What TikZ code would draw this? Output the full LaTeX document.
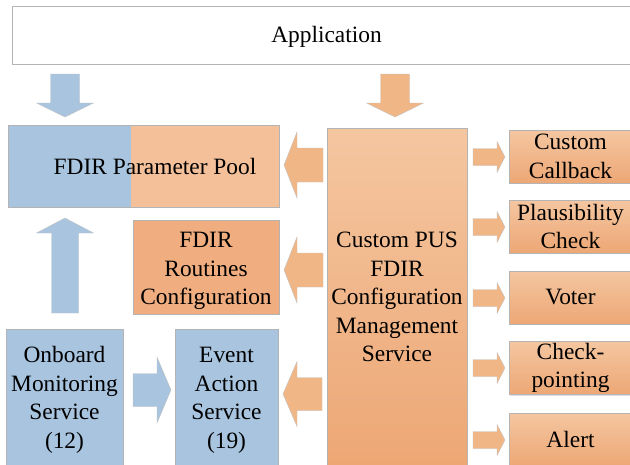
\documentclass[tikz,border=0pt]{standalone}
\usepackage{fontspec}
\setmainfont{Liberation Serif}
\newfontfamily\tnrfont{Liberation Serif}
\usetikzlibrary{calc,shadows}
\definecolor{bblue}{HTML}{A8C4DF}
\definecolor{oarrow}{HTML}{F1B686}
\definecolor{opool}{HTML}{F3C09A}
\definecolor{oroutine}{HTML}{F0AE80}
\definecolor{otop}{HTML}{F4C6A0}
\definecolor{obot}{HTML}{EDA775}
\definecolor{edgegray}{HTML}{B4B4B4}
% #1 style, #2 tip coordinate, #3 angle, #4 length, #5 shaft half width, #6 head half width, #7 head length
\newcommand\blockarrow[7]{\path[#1,shift={#2},rotate=#3] (0,0) -- (-#7,#6) -- (-#7,#5) -- (-#4,#5) -- (-#4,-#5) -- (-#7,-#5) -- (-#7,-#6) -- cycle;}
\begin{document}
\begin{tikzpicture}[x=1pt,y=-1pt,
  box/.style={draw=edgegray, line width=0.8pt, rectangle, inner sep=0pt, align=center,
    font=\tnrfont\fontsize{23.4}{28.5}\selectfont, text=black,
    drop shadow={opacity=0.25, shadow xshift=1pt, shadow yshift=-1pt}},
  bluebox/.style={box, fill=bblue},
  gradbox/.style={box, top color=otop, bottom color=obot},
  rbox/.style={gradbox, minimum width=123pt, minimum height=53pt},
  oarr/.style={fill=oarrow, draw=edgegray!80, line width=0.4pt},
  barr/.style={fill=bblue, draw=edgegray!80, line width=0.4pt}
]
\useasboundingbox[fill=white] (0,0) rectangle (630,464);

% boxes
\node[box, fill=white, minimum width=628pt, minimum height=58pt] (app) at (326.5,35) {\rule{0pt}{20pt}Application};
\node[box, fill=opool, minimum width=271pt, minimum height=81.5pt,
  path picture={\fill[bblue] (path picture bounding box.north west) rectangle ($(path picture bounding box.south west)+(123,0)$);}]
  (pool) at (143.5,166.25) {FDIR Parameter Pool\hspace*{-23pt}};
\node[box, fill=oroutine, minimum width=146pt, minimum height=94pt] (routines) at (206,267) {\rule{0pt}{24pt}FDIR\\Routines\\Configuration};
\node[gradbox, minimum width=140pt, minimum height=338pt] (cpus) at (397,297) {Custom PUS\\FDIR\\Configuration\\Management\\Service};
\node[bluebox, minimum width=117pt, minimum height=136pt] (oms) at (64.5,397) {\rule{0pt}{22pt}Onboard\\Monitoring\\Service\\(12)};
\node[bluebox, minimum width=103pt, minimum height=136pt] (eas) at (226.5,397) {\rule{0pt}{22pt}Event\\Action\\Service\\(19)};
\node[rbox] (cc) at (570.5,156.5) {Custom\\Callback};
\node[rbox] (pc) at (570.5,226.5) {Plausibility\\Check};
\node[rbox] (voter) at (570.5,297.5) {Voter};
\node[rbox] (cp) at (570.5,368) {Check-\\pointing};
\node[rbox] (alert) at (570.5,439.5) {Alert};

% block arrows
\blockarrow{barr}{(65,117)}{-90}{43}{14.5}{28.5}{14}
\blockarrow{oarr}{(395,117)}{-90}{43}{14.5}{28.5}{14}
\blockarrow{barr}{(65,218)}{90}{95}{13.5}{28.5}{15}
\blockarrow{oarr}{(284,165)}{180}{39}{17}{33}{13}
\blockarrow{oarr}{(284,270)}{180}{39}{17}{33}{13}
\blockarrow{oarr}{(283,394)}{180}{39}{16.5}{32.5}{14}
\blockarrow{barr}{(171,390)}{0}{38}{16.5}{33}{14}
\blockarrow{oarr}{(505,157)}{0}{32}{8.5}{15.5}{8}
\blockarrow{oarr}{(505,227)}{0}{32}{8.5}{15.5}{8}
\blockarrow{oarr}{(505,298)}{0}{32}{8.5}{15.5}{8}
\blockarrow{oarr}{(505,368)}{0}{32}{8.5}{15.5}{8}
\blockarrow{oarr}{(505,440)}{0}{32}{8.5}{15.5}{8}
\end{tikzpicture}
\end{document}
